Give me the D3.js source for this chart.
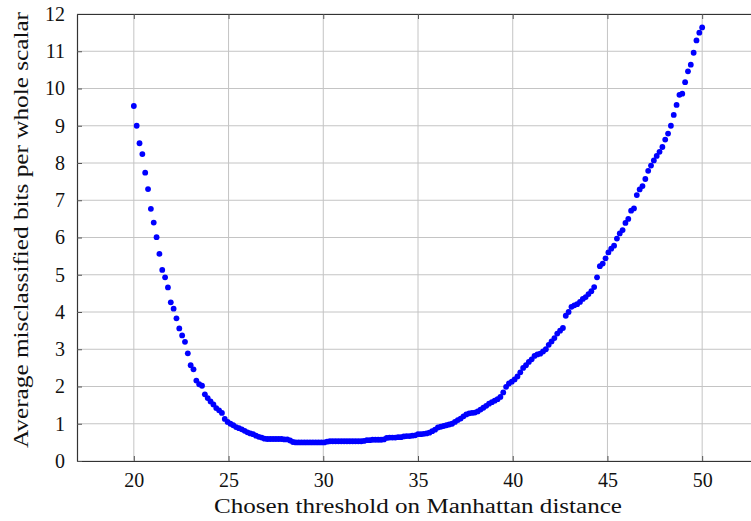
<!DOCTYPE html>
<html>
<head>
<meta charset="utf-8">
<script src="https://cdn.jsdelivr.net/npm/d3@7"></script>
<style>
  body { margin: 0; background: #fff; }
  svg { display: block; font-family: "Liberation Serif", "DejaVu Serif", serif; }
</style>
</head>
<body>
<div id="chart-area"></div>
<script>
// thresholds (x) and average misclassified bits (y)
var thresholds = [
    20, 20.15, 20.3, 20.45, 20.6, 20.75, 20.9, 21.05, 21.2, 21.35,
    21.5, 21.65, 21.8, 21.95, 22.1, 22.25, 22.4, 22.55, 22.7, 22.85,
    23, 23.15, 23.3, 23.45, 23.6, 23.75, 23.9, 24.05, 24.2, 24.35,
    24.5, 24.65, 24.8, 24.95, 25.1, 25.25, 25.4, 25.55, 25.7, 25.85,
    26, 26.15, 26.3, 26.45, 26.6, 26.75, 26.9, 27.05, 27.2, 27.35,
    27.5, 27.65, 27.8, 27.95, 28.1, 28.25, 28.4, 28.55, 28.7, 28.85,
    29, 29.15, 29.3, 29.45, 29.6, 29.75, 29.9, 30.05, 30.2, 30.35,
    30.5, 30.65, 30.8, 30.95, 31.1, 31.25, 31.4, 31.55, 31.7, 31.85,
    32, 32.15, 32.3, 32.45, 32.6, 32.75, 32.9, 33.05, 33.2, 33.35,
    33.5, 33.65, 33.8, 33.95, 34.1, 34.25, 34.4, 34.55, 34.7, 34.85,
    35, 35.15, 35.3, 35.45, 35.6, 35.75, 35.9, 36.05, 36.2, 36.35,
    36.5, 36.65, 36.8, 36.95, 37.1, 37.25, 37.4, 37.55, 37.7, 37.85,
    38, 38.15, 38.3, 38.45, 38.6, 38.75, 38.9, 39.05, 39.2, 39.35,
    39.5, 39.65, 39.8, 39.95, 40.1, 40.25, 40.4, 40.55, 40.7, 40.85,
    41, 41.15, 41.3, 41.45, 41.6, 41.75, 41.9, 42.05, 42.2, 42.35,
    42.5, 42.65, 42.8, 42.95, 43.1, 43.25, 43.4, 43.55, 43.7, 43.85,
    44, 44.15, 44.3, 44.45, 44.6, 44.75, 44.9, 45.05, 45.2, 45.35,
    45.5, 45.65, 45.8, 45.95, 46.1, 46.25, 46.4, 46.55, 46.7, 46.85,
    47, 47.15, 47.3, 47.45, 47.6, 47.75, 47.9, 48.05, 48.2, 48.35,
    48.5, 48.65, 48.8, 48.95, 49.1, 49.25, 49.4, 49.55, 49.7, 49.85,
    50
];
var misclassified = [
    9.53, 9.00, 8.53, 8.24, 7.74, 7.30, 6.77, 6.40, 6.01, 5.56,
    5.13, 4.93, 4.66, 4.26, 4.09, 3.83, 3.56, 3.37, 3.20, 2.89,
    2.57, 2.46, 2.16, 2.06, 2.02, 1.79, 1.69, 1.60, 1.52, 1.42,
    1.36, 1.29, 1.13, 1.05, 1.00, 0.96, 0.91, 0.88, 0.85, 0.81,
    0.77, 0.74, 0.72, 0.68, 0.65, 0.63, 0.60, 0.59, 0.59, 0.59,
    0.59, 0.59, 0.59, 0.58, 0.58, 0.55, 0.51, 0.50, 0.50, 0.50,
    0.50, 0.50, 0.50, 0.50, 0.50, 0.50, 0.50, 0.50, 0.52, 0.53,
    0.53, 0.53, 0.53, 0.53, 0.53, 0.53, 0.53, 0.53, 0.53, 0.53,
    0.53, 0.54, 0.56, 0.56, 0.57, 0.57, 0.57, 0.57, 0.58, 0.62,
    0.63, 0.63, 0.63, 0.64, 0.64, 0.66, 0.67, 0.67, 0.68, 0.69,
    0.72, 0.72, 0.73, 0.74, 0.76, 0.80, 0.84, 0.90, 0.92, 0.94,
    0.96, 0.98, 1.00, 1.05, 1.10, 1.14, 1.20, 1.25, 1.28, 1.29,
    1.30, 1.33, 1.38, 1.43, 1.48, 1.54, 1.58, 1.62, 1.66, 1.72,
    1.84, 1.99, 2.08, 2.13, 2.19, 2.27, 2.38, 2.50, 2.57, 2.66,
    2.73, 2.82, 2.86, 2.88, 2.94, 3.00, 3.12, 3.21, 3.30, 3.42,
    3.50, 3.57, 3.90, 4.00, 4.14, 4.18, 4.21, 4.27, 4.35, 4.40,
    4.48, 4.56, 4.67, 4.93, 5.23, 5.30, 5.44, 5.60, 5.70, 5.78,
    5.97, 6.11, 6.20, 6.39, 6.50, 6.72, 6.78, 7.14, 7.29, 7.38,
    7.57, 7.79, 7.93, 8.07, 8.19, 8.30, 8.43, 8.63, 8.79, 9.00,
    9.29, 9.56, 9.83, 9.86, 10.17, 10.46, 10.64, 10.96, 11.29, 11.50,
    11.64
];
var xTicks = [20, 25, 30, 35, 40, 45, 50];
var yTicks = [0, 1, 2, 3, 4, 5, 6, 7, 8, 9, 10, 11, 12];
var xLabel = "Chosen threshold on Manhattan distance";
var yLabel = "Average misclassified bits per whole scalar";

var data = thresholds.map(function (t, i) {
    return { x: t, y: misclassified[i] };
});

var margin = { left: 77, right: -8, top: 14, bottom: 60 };
var W = 751, H = 521;
var width = W - margin.left - margin.right;
var height = H - margin.top - margin.bottom;

var svg = d3.select("#chart-area")
    .append("svg")
    .attr("width", W)
    .attr("height", H);

var g = svg.append("g")
    .attr("transform", "translate(" + margin.left + "," + margin.top + ")");

var x = d3.scaleLinear()
    .domain([17, 53])
    .range([0, width]);

var y = d3.scaleLinear()
    .domain([0, 12])
    .range([height, 0]);

// grid
g.append("g")
    .attr("class", "x-grid")
    .selectAll("line")
    .data(xTicks)
    .enter()
    .append("line")
    .attr("x1", function (d) { return x(d); })
    .attr("x2", function (d) { return x(d); })
    .attr("y1", 0)
    .attr("y2", height)
    .attr("stroke", "#c4c4c4")
    .attr("stroke-width", 1);

g.append("g")
    .attr("class", "y-grid")
    .selectAll("line")
    .data(yTicks)
    .enter()
    .append("line")
    .attr("x1", 0)
    .attr("x2", width)
    .attr("y1", function (d) { return y(d); })
    .attr("y2", function (d) { return y(d); })
    .attr("stroke", "#c4c4c4")
    .attr("stroke-width", 1);

// axes (ticks inside, like pgfplots)
var xAxisCall = d3.axisBottom(x).tickValues(xTicks).tickSizeInner(-5).tickSizeOuter(0).tickPadding(12);
g.append("g")
    .attr("class", "x-axis")
    .attr("transform", "translate(0," + height + ")")
    .call(xAxisCall);

var yAxisCall = d3.axisLeft(y).tickValues(yTicks).tickSizeInner(-5).tickSizeOuter(0).tickPadding(12);
g.append("g")
    .attr("class", "y-axis")
    .call(yAxisCall);

g.append("g")
    .attr("class", "x-axis-top")
    .call(d3.axisTop(x).tickValues(xTicks).tickSizeInner(-5).tickSizeOuter(0).tickFormat(""));

g.append("g")
    .attr("class", "y-axis-right")
    .attr("transform", "translate(" + width + ",0)")
    .call(d3.axisRight(y).tickValues(yTicks).tickSizeInner(-5).tickSizeOuter(0).tickFormat(""));

g.selectAll(".domain").attr("stroke", "#333").attr("stroke-width", 1.2);
g.selectAll(".tick line").attr("stroke", "#555");
g.selectAll(".tick text")
    .attr("font-family", "'Liberation Serif', serif")
    .attr("font-size", "20px")
    .attr("fill", "#111");

// points
g.selectAll("circle")
    .data(data)
    .enter()
    .append("circle")
    .attr("cx", function (d) { return x(d.x); })
    .attr("cy", function (d) { return y(d.y); })
    .attr("r", 2.9)
    .attr("fill", "#0000ff");

// labels
svg.append("text")
    .attr("x", 418)
    .attr("y", 513)
    .attr("font-size", "20px")
    .attr("text-anchor", "middle")
    .attr("fill", "#111")
    .attr("textLength", 408)
    .attr("lengthAdjust", "spacingAndGlyphs")
    .text(xLabel);

svg.append("text")
    .attr("transform", "translate(28,230) rotate(-90)")
    .attr("font-size", "20px")
    .attr("text-anchor", "middle")
    .attr("fill", "#111")
    .attr("textLength", 436)
    .attr("lengthAdjust", "spacingAndGlyphs")
    .text(yLabel);
</script>
</body>
</html>
